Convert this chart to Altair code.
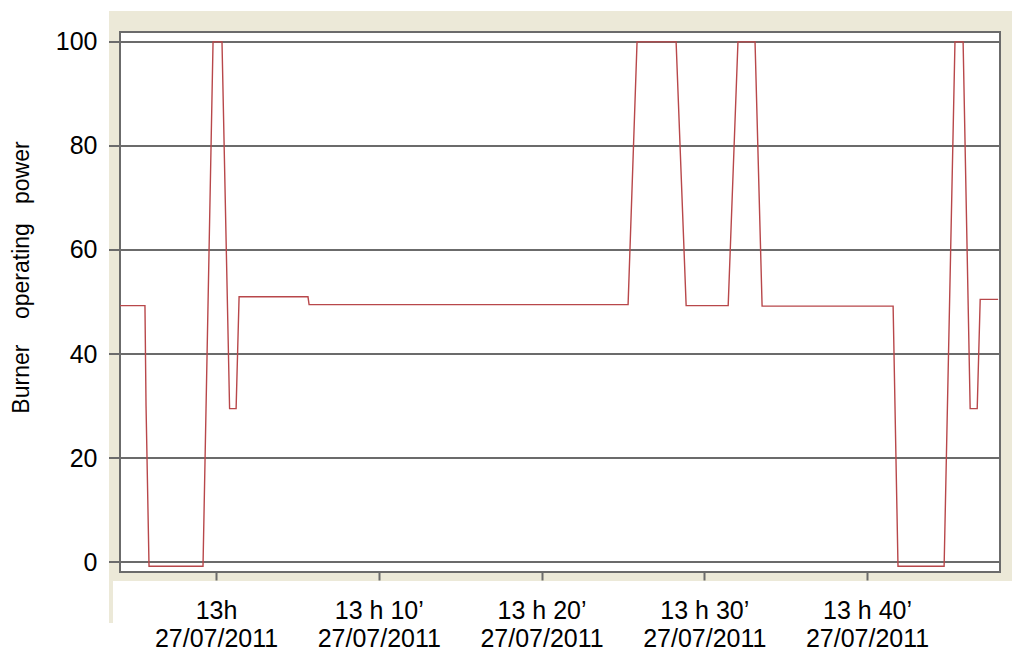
import altair as alt
import pandas as pd

# ---- data ----
times = ["12:54:06", "12:55:38", "12:55:42", "12:55:53", "12:59:12", "12:59:49",
         "13:00:22", "13:00:50", "13:01:14", "13:01:25", "13:05:39", "13:05:43",
         "13:25:19", "13:25:52", "13:28:16", "13:28:53", "13:31:28", "13:32:04",
         "13:33:07", "13:33:33", "13:41:36", "13:41:54", "13:44:44", "13:45:24",
         "13:45:54", "13:46:20", "13:46:46", "13:46:57", "13:48:03"]
power = [49.3, 49.3, 30, -0.8, -0.8, 100,
         100, 29.5, 29.5, 51, 51, 49.5,
         49.5, 100, 100, 49.3, 49.3, 100,
         100, 49.2, 49.2, -0.8, -0.8, 100,
         100, 29.5, 29.5, 50.5, 50.5]
day = "2011-07-27"
ref_time = "13:00:00"
x_start, x_end = "12:54:06", "13:48:10"
x_ticks = [0, 10, 20, 30, 40]
x_tick_labels = ["13h", "13 h 10’", "13 h 20’", "13 h 30’", "13 h 40’"]
date_label = "27/07/2011"
y_ticks = [0, 20, 40, 60, 80, 100]
y_domain = [-1.9, 101.9]
y_title = "Burner\u00a0\u00a0\u00a0\u00a0operating\u00a0\u00a0\u00a0power"

ref = pd.Timestamp(f"{day} {ref_time}")
def minutes(t):
    return (pd.Timestamp(f"{day} {t}") - ref).total_seconds() / 60.0

df = pd.DataFrame({"t": [minutes(t) for t in times], "power": power})
x_domain = [minutes(x_start), minutes(x_end)]

FONT = "Liberation Sans"
BEIGE = "#ECE9D8"
GRID = "#6b6b6b"
W, H = 880, 540

label_expr = " : ".join(
    f"datum.value == {v} ? ['{lab}', '{date_label}']" for v, lab in zip(x_ticks, x_tick_labels)
) + " : ''"

xscale = alt.Scale(domain=x_domain, nice=False, zero=False)
yscale = alt.Scale(domain=y_domain, nice=False, zero=False)

one = alt.Data(values=[{}])

beige = alt.Chart(one).mark_rect(color=BEIGE).encode(
    x=alt.value(-11), x2=alt.value(892), y=alt.value(-21), y2=alt.value(549)
)
strip = alt.Chart(one).mark_rect(color=BEIGE).encode(
    x=alt.value(-11), x2=alt.value(-7), y=alt.value(540), y2=alt.value(591)
)
plot_bg = alt.Chart(one).mark_rect(fill="white", stroke=GRID, strokeWidth=2).encode(
    x=alt.value(0), x2=alt.value(W), y=alt.value(0), y2=alt.value(H)
)

grid = alt.Chart(pd.DataFrame({"v": y_ticks})).mark_rule(color=GRID, strokeWidth=2).encode(
    y=alt.Y("v:Q", scale=yscale),
    x=alt.value(-11),
    x2=alt.value(W),
)

line = alt.Chart(df).mark_line(color="#b8474a", strokeWidth=1.4, clip=True).encode(
    x=alt.X(
        "t:Q",
        scale=xscale,
        axis=alt.Axis(
            values=x_ticks,
            labelExpr=label_expr,
            title=None,
            grid=False,
            domain=False,
            ticks=True,
            tickSize=8,
            tickColor=GRID,
            tickWidth=2,
            labelFont=FONT,
            labelFontSize=25,
            labelColor="#000000",
            labelLineHeight=28,
            labelPadding=18,
            labelOverlap=False,
            labelFlush=False,
            zindex=1,
        ),
    ),
    y=alt.Y(
        "power:Q",
        scale=yscale,
        axis=alt.Axis(
            values=y_ticks,
            title=y_title,
            titleFont=FONT,
            titleFontSize=23,
            titleFontWeight="normal",
            titleColor="#000000",
            titleAnchor="middle",
            titleX=-87,
            titleY=245,
            titleBaseline="bottom",
            titleAngle=270,
            grid=False,
            domain=False,
            ticks=False,
            labelFont=FONT,
            labelFontSize=25,
            labelColor="#000000",
            labelPadding=23,
            zindex=1,
        ),
    ),
)

chart = alt.layer(beige, strip, plot_bg, grid, line).properties(
    width=W,
    height=H,
    autosize=alt.AutoSizeParams(type="none"),
    padding={"left": 112, "top": 24, "right": 16, "bottom": 80},
    background="white",
).configure_view(stroke=None)

chart.save("out.html", embed_options={"renderer": "svg", "actions": False})
